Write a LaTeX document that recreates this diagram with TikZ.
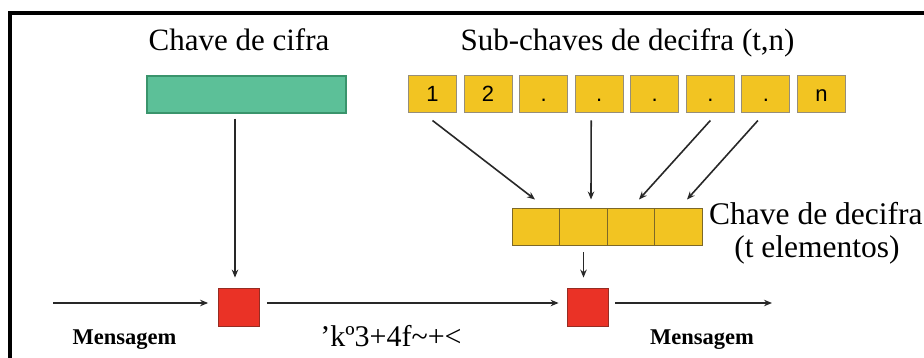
\documentclass[tikz,border=0pt]{standalone}
\usepackage{fontspec}
\setmainfont{Liberation Serif}
\newfontfamily\keyfont{Liberation Sans}
\usetikzlibrary{arrows.meta,calc}

\definecolor{keygreen}{RGB}{92,192,152}
\definecolor{keygreenedge}{RGB}{58,148,108}
\definecolor{keyyellow}{RGB}{242,196,34}
\definecolor{subedge}{RGB}{150,142,122}
\definecolor{celledge}{RGB}{125,104,40}
\definecolor{boxred}{RGB}{234,50,38}
\definecolor{rededge}{RGB}{150,44,34}
\definecolor{ink}{RGB}{40,40,40}

\tikzset{
  title/.style={font=\fontsize{31}{31}\selectfont, inner sep=0, anchor=base},
  sidelabel/.style={font=\fontsize{31.5}{31.5}\selectfont, inner sep=0, anchor=base},
  caption/.style={font=\fontsize{22.5}{22.5}\selectfont\bfseries, inner sep=0, anchor=base},
  subkey/.style={draw=subedge, fill=keyyellow, line width=1pt,
    minimum width=48, minimum height=37, inner sep=0,
    text height=15pt, text depth=0pt, font=\keyfont\fontsize{22}{22}\selectfont},
  cell/.style={draw=celledge, fill=keyyellow, line width=1pt,
    minimum width=47.5, minimum height=37, inner sep=0},
  cipher/.style={draw=rededge, fill=boxred, line width=0.8pt,
    minimum width=41, minimum height=38, inner sep=0},
  arr/.style={draw=ink, line width=1.6pt, -{Stealth[length=8pt,width=6.5pt]}},
}

\begin{document}
\begin{tikzpicture}[x=1pt, y=-1pt]
  \useasboundingbox (0,0) rectangle (924,358);

  % outer frame (top and left sides)
  \draw[line width=4pt] (10,365) -- (10,13) -- (935,13);

  % titles
  \node[title] (tcifra) at (239,51) {Chave de cifra};
  \node[title] (tsub) at (627.5,51) {Sub-chaves de decifra (t,n)};

  % cipher key
  \node[draw=keygreenedge, fill=keygreen, line width=1.2pt,
        minimum width=199, minimum height=37, inner sep=0] (green) at (246.5,94.5) {};

  % decipher sub-keys
  \foreach \i/\t in {1/1, 2/2, 3/., 4/., 5/., 6/., 7/., 8/n}
    \node[subkey] (k\i) at ({432.5+(\i-1)*55.57},94.5) {\t};

  % assembled decipher key (t elements)
  \foreach \i in {1,...,4}
    \node[cell] (c\i) at ({536+(\i-1)*47.5},227.5) {};

  \node[sidelabel, anchor=base west] (tdec) at (709,225) {Chave de decifra};
  \node[sidelabel] (telem) at (817,258) {(t elementos)};

  % cipher / decipher operations
  \node[cipher] (red1) at (239,307) {};
  \node[cipher] (red2) at (587.5,307) {};

  % key arrows
  \draw[arr] ($(green.south -| red1.north)+(-4,5)$) -- ($(red1.north)+(-4,-10)$);
  \draw[arr] ($(k1.south)+(0,7)$) -- ($(c1.north)+(-1,-9)$);
  \draw[arr] ($(k4.south)+(-8,7)$) -- ($(c2.north)+(7.5,-9)$);
  \draw[arr] ($(k6.south)+(0,7)$) -- ($(c3.north)+(8,-9)$);
  \draw[arr] ($(k7.south)+(-8,7)$) -- ($(c4.north)+(8.5,-9)$);
  \draw[arr] ($(c2.south)+(0,6)$) -- ($(c2.south |- red2.north)+(0,-10)$);

  % message flow
  \coordinate (msgin) at (53,303);
  \coordinate (msgout) at (772,303);
  \draw[arr] (msgin) -- ($(red1.west)+(-10,-4)$);
  \draw[arr] ($(red1.east)+(7,-4)$) -- ($(red2.west)+(-8,-4)$);
  \draw[arr] ($(red2.east)+(7,-4)$) -- (msgout);

  \node[caption] (m1) at (124.5,344) {Mensagem};
  \node[title, font=\fontsize{30}{30}\selectfont] (cript) at (391,346) {’kº3+4f\char`\~+<};
  \node[caption] (m2) at (702,344) {Mensagem};
\end{tikzpicture}
\end{document}
